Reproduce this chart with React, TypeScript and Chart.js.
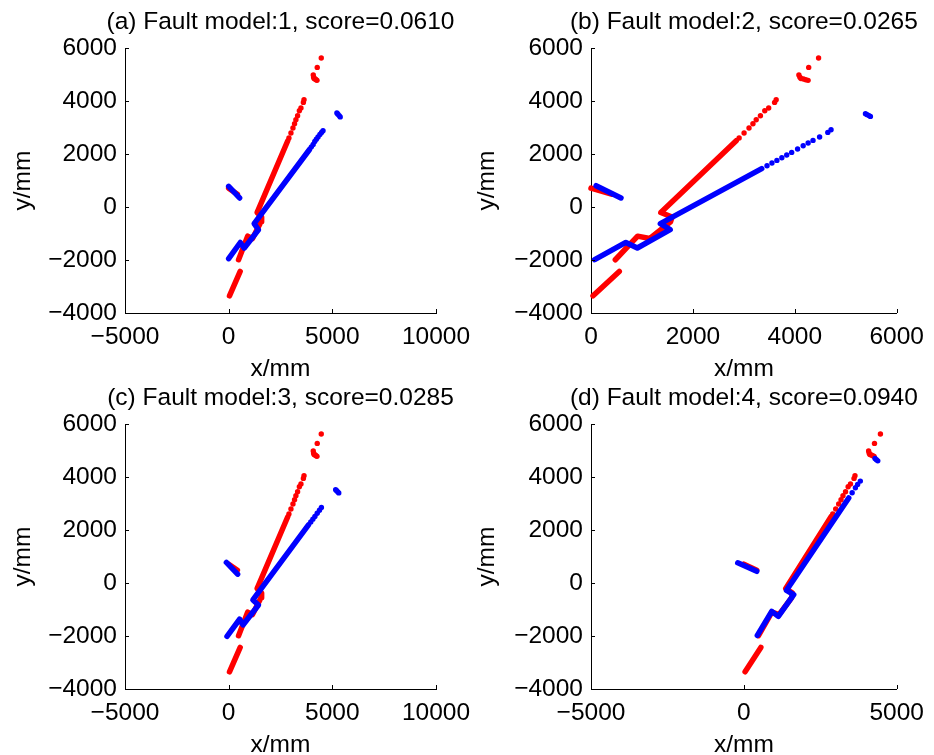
import React, { useEffect, useRef } from "react";
import { Chart, registerables } from "chart.js";

Chart.register(...registerables);

type P = [number, number];

// ---------- text / axes ----------
const panelTitles = [
  "(a) Fault model:1, score=0.0610",
  "(b) Fault model:2, score=0.0265",
  "(c) Fault model:3, score=0.0285",
  "(d) Fault model:4, score=0.0940",
];
const xMins = [-5000, 0, -5000, -5000];
const xMaxs = [10000, 6000, 10000, 5000];
const xSteps = [5000, 2000, 5000, 5000];
const yMin = -4000;
const yMax = 6000;
const yStep = 2000;
const xLabel = "x/mm";
const yLabel = "y/mm";

// ---------- measured points (red), same in all panels ----------
const redLow: P[] = [[40, -3350], [555, -2430]];
const redMid: P[] = [[477, -1990], [915, -1100], [1150, -1190], [1560, -560], [1590, -380], [1370, -210], [2850, 2500]];
const redShort: P[] = [[0, 710], [420, 480]];
const redDots: P[] = [
  [2907, 2604], [3004, 2792], [3101, 2981], [3178, 3143], [3242, 3294], [3325, 3445],
  [3410, 3634], [3487, 3736], [3603, 3947], [3634, 4049],
  [4080, 4980], [4100, 4900], [4120, 4850], [4170, 4830], [4215, 4800], [4260, 4780],
  [4272, 5268], [4466, 5623],
];

// ---------- model points (blue) ----------
const blueShort1: P[] = [[0, 780], [527, 340]];
const blueLine1: P[] = [[0, -1950], [560, -1340], [752, -1550], [1437, -860], [1230, -630], [3900, 2170]];
const blueDots1: P[] = [
  [3990, 2270], [4075, 2360], [4152, 2475], [4230, 2555], [4310, 2640], [4400, 2735], [4480, 2810], [4550, 2880],
  [5220, 3550], [5270, 3500], [5330, 3450], [5380, 3400],
];

const blueShort2: P[] = [[100, 804], [588, 340]];
const blueLine2: P[] = [[72, -1989], [684, -1336], [909, -1547], [1554, -857], [1361, -630], [3350, 1450]];
const blueDots2: P[] = [
  [3454, 1558], [3551, 1660], [3648, 1758], [3745, 1860], [3841, 1962], [3938, 2060],
  [4054, 2189], [4164, 2313], [4261, 2415], [4357, 2513], [4486, 2642], [4647, 2815], [4711, 2917],
  [5386, 3517], [5420, 3485], [5455, 3450], [5483, 3419],
];

const blueShort3: P[] = [[-110, 775], [431, 333]];
const blueLine3: P[] = [[-80, -2010], [527, -1368], [690, -1583], [1437, -830], [1168, -640], [3850, 2190]];
const blueDots3: P[] = [
  [3960, 2300], [4060, 2410], [4160, 2510], [4270, 2630], [4380, 2745], [4473, 2850],
  [5160, 3520], [5210, 3480], [5260, 3440], [5310, 3400],
];

const blueShort4: P[] = [[-200, 760], [420, 440]];
const blueLine4: P[] = [[440, -1975], [911, -1072], [1127, -1261], [1630, -439], [1394, -276], [3430, 3210]];
const blueDots4: P[] = [
  [3541, 3403], [3648, 3593], [3720, 3720], [3809, 3845],
  [4290, 4700], [4335, 4655], [4380, 4610],
];

const blueShorts = [blueShort1, blueShort2, blueShort3, blueShort4];
const blueLines = [blueLine1, blueLine2, blueLine3, blueLine4];
const blueDotSets = [blueDots1, blueDots2, blueDots3, blueDots4];

// ---------- layout ----------
const W_PAGE = 934;
const H_PAGE = 755;
const geom = [
  { L: 125, R: 436, T: 48, B: 313, W: 116 },
  { L: 591, R: 902, T: 48, B: 313, W: 118 },
  { L: 125, R: 436, T: 424, B: 689, W: 116 },
  { L: 591, R: 902, T: 424, B: 689, W: 118 },
];
const X_AXIS_H = 71;
const FONT = "'Liberation Sans', Arial, Helvetica, sans-serif";
const FS = 24.5;
const RED = "#ff0000";
const BLUE = "#0000ff";

const toXY = (pts: P[]) => pts.map(([x, y]) => ({ x, y }));

const lineDs = (pts: P[], color: string) => ({
  data: toXY(pts),
  showLine: true,
  borderColor: color,
  backgroundColor: color,
  borderWidth: 5.5,
  pointRadius: 0,
  borderCapStyle: "round",
  borderJoinStyle: "round",
  tension: 0,
  clip: false,
});

const dotDs = (pts: P[], color: string) => ({
  data: toXY(pts),
  showLine: false,
  pointRadius: 2.7,
  pointBackgroundColor: color,
  pointBorderWidth: 0,
  borderWidth: 0,
  backgroundColor: color,
  clip: false,
});

const fmt = (v: number | string) => String(v).replace("-", "\u2212");

const extrasPlugin = {
  id: "panelExtras",
  afterDraw(chart: any, _args: any, opts: any) {
    const { ctx, chartArea, scales } = chart;
    ctx.save();
    // inward ticks
    ctx.strokeStyle = "#000";
    ctx.lineWidth = 1;
    ctx.beginPath();
    scales.x.ticks.forEach((t: any) => {
      const px = Math.round(scales.x.getPixelForValue(t.value)) + 0.5;
      ctx.moveTo(px, chartArea.bottom);
      ctx.lineTo(px, chartArea.bottom - 4);
    });
    scales.y.ticks.forEach((t: any) => {
      const py = Math.round(scales.y.getPixelForValue(t.value)) + 0.5;
      ctx.moveTo(chartArea.left, py);
      ctx.lineTo(chartArea.left + 4, py);
    });
    ctx.stroke();
    // panel title
    ctx.fillStyle = "#000";
    ctx.font = `${FS}px ${FONT}`;
    ctx.textAlign = "center";
    ctx.textBaseline = "alphabetic";
    ctx.fillText(opts.text, (chartArea.left + chartArea.right) / 2, chartArea.top - 19);
    ctx.restore();
  },
};

function makeConfig(i: number): any {
  const g = geom[i];
  return {
    type: "scatter",
    data: {
      datasets: [
        lineDs(blueLines[i], BLUE),
        lineDs(blueShorts[i], BLUE),
        dotDs(blueDotSets[i], BLUE),
        lineDs(redMid, RED),
        lineDs(redLow, RED),
        lineDs(redShort, RED),
        dotDs(redDots, RED),
      ],
    },
    options: {
      animation: false,
      responsive: false,
      events: [],
      layout: {
        padding: {
          left: g.L - g.W,
          top: g.T,
          right: W_PAGE - g.R,
          bottom: H_PAGE - g.B - X_AXIS_H,
        },
      },
      plugins: {
        legend: { display: false },
        title: { display: false },
        tooltip: { enabled: false },
        panelExtras: { text: panelTitles[i] },
      },
      scales: {
        x: {
          type: "linear",
          position: "bottom",
          min: xMins[i],
          max: xMaxs[i],
          afterFit: (s: any) => {
            s.height = X_AXIS_H;
          },
          ticks: {
            stepSize: xSteps[i],
            autoSkip: false,
            maxRotation: 0,
            minRotation: 0,
            padding: 10,
            color: "#000",
            font: { family: FONT, size: FS },
            callback: (v: any) => fmt(v),
          },
          grid: { display: false, drawTicks: false },
          border: { display: true, color: "#000", width: 1 },
          title: {
            display: true,
            text: xLabel,
            color: "#000",
            font: { family: FONT, size: FS },
            padding: { top: 0, bottom: 0 },
          },
        },
        y: {
          type: "linear",
          position: "left",
          min: yMin,
          max: yMax,
          afterFit: (s: any) => {
            s.width = g.W;
          },
          ticks: {
            stepSize: yStep,
            autoSkip: false,
            padding: 8,
            color: "#000",
            font: { family: FONT, size: FS },
            callback: (v: any) => fmt(v),
          },
          grid: { display: false, drawTicks: false },
          border: { display: true, color: "#000", width: 1 },
          title: {
            display: true,
            text: yLabel,
            color: "#000",
            font: { family: FONT, size: FS },
            padding: { top: 0, bottom: 0 },
          },
        },
      },
    },
    plugins: [extrasPlugin],
  };
}

export default function App() {
  const refs = [
    useRef<HTMLCanvasElement>(null),
    useRef<HTMLCanvasElement>(null),
    useRef<HTMLCanvasElement>(null),
    useRef<HTMLCanvasElement>(null),
  ];

  useEffect(() => {
    Chart.defaults.font.family = FONT;
    const charts = refs.map((r, i) => new Chart(r.current as HTMLCanvasElement, makeConfig(i)));
    return () => charts.forEach((c) => c.destroy());
  }, []);

  return (
    <div
      style={{
        position: "fixed",
        left: 0,
        top: 0,
        width: W_PAGE,
        height: H_PAGE,
        background: "#fff",
        overflow: "hidden",
      }}
    >
      {refs.map((r, i) => (
        <canvas
          key={i}
          ref={r}
          width={W_PAGE}
          height={H_PAGE}
          style={{ position: "absolute", left: 0, top: 0, width: W_PAGE, height: H_PAGE }}
        />
      ))}
    </div>
  );
}
